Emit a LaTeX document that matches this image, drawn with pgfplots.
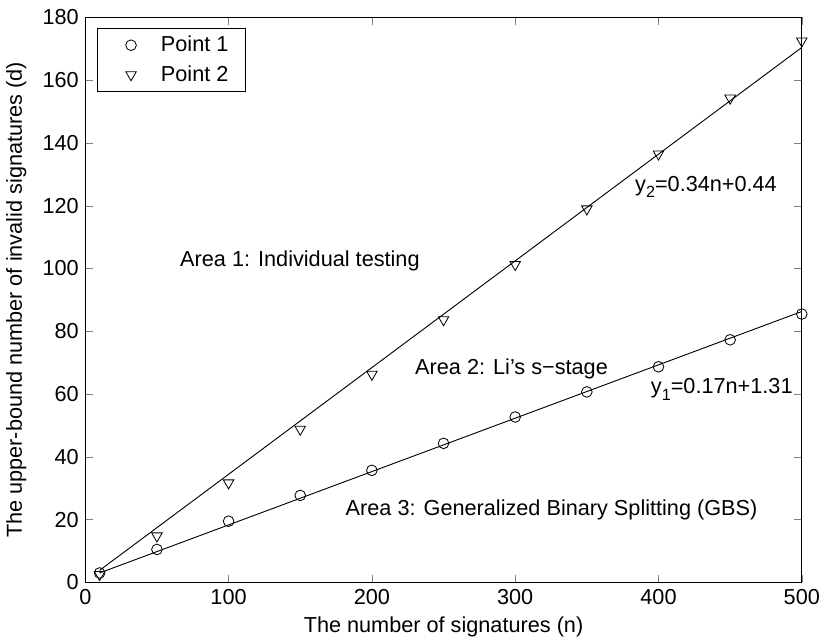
\documentclass[border=0pt]{standalone}
\usepackage{pgfplots}
\pgfplotsset{compat=1.18}
\usepackage{fontspec}
\setmainfont{Liberation Sans}
\newcommand{\fs}{\fontsize{11.8}{13.5}\selectfont}
\newcommand{\sub}[1]{\raisebox{-0.55ex}{\fontsize{8.8}{9}\selectfont #1}}
\begin{document}
\begin{tikzpicture}
\begin{axis}[
  scale only axis,
  width=390pt, height=307.5pt,
  xmin=0, xmax=500, ymin=0, ymax=180,
  xtick={0,100,200,300,400,500},
  ytick={0,20,40,60,80,100,120,140,160,180},
  tick align=inside,
  major tick length=4pt,
  /pgf/number format/assume math mode=true,
  ticklabel style={font=\fs},
  label style={font=\fs},
  xlabel={The number of signatures (n)},
  ylabel={The upper-bound number of invalid signatures (d)},
  xlabel style={yshift=0pt},
  ylabel style={yshift=2pt},
  axis line style={line width=0.6pt},
  legend style={at={(rel axis cs:0.017,0.981)}, anchor=north west,
     font=\fs, draw=black, line width=0.5pt,
     inner xsep=7pt, inner ysep=2pt, row sep=2pt, cells={anchor=west}},
  legend image code/.code={\path (0pt,0pt); \draw[#1] plot coordinates {(10.8pt,0pt)};},
  legend cell align=left,
  clip=false,
]
\addplot[only marks, mark=o, mark size=2.9pt, black, line width=0.45pt] coordinates {
 (10,3.0) (50,10.5) (100,19.5) (150,27.7) (200,35.7) (250,44.3) (300,52.7) (350,60.7) (400,68.7) (450,77.3) (500,85.5)};
\addlegendentry{\hspace{11.4pt}Point 1}
\addplot[only marks, mark=triangle, mark options={rotate=180}, mark size=3.3pt, black, line width=0.45pt] coordinates {
 (10,2.5) (50,14.8) (100,31.7) (150,48.8) (200,66.3) (250,83.7) (300,101.3) (350,119.0) (400,136.5) (450,154.3) (500,172.5)};
\addlegendentry{\hspace{11.4pt}Point 2}
\addplot[black, line width=0.5pt, forget plot] coordinates {(10,3.01) (500,86.31)};
\addplot[black, line width=0.5pt, forget plot] coordinates {(10,3.84) (500,170.44)};
\node[anchor=west, font=\fs, inner sep=0pt] at (axis cs:66,102.5) {Area 1: Individual testing};
\node[anchor=west, font=\fs, inner sep=0pt] at (axis cs:230,68) {Area 2: Li’s s−stage};
\node[anchor=west, font=\fs, inner sep=0pt] at (axis cs:181.5,23) {Area 3: Generalized Binary Splitting (GBS)};
\node[anchor=west, font=\fs, inner sep=0pt] at (axis cs:394.5,61.5) {y\sub{1}=0.17n+1.31};
\node[anchor=west, font=\fs, inner sep=0pt] at (axis cs:383.5,126) {y\sub{2}=0.34n+0.44};
\path ([yshift=9.5pt]rel axis cs:0,1);
\end{axis}
\end{tikzpicture}
\end{document}
